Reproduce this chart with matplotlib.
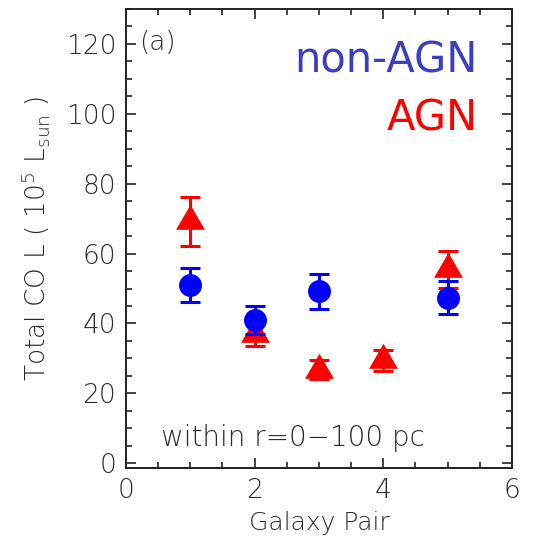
import numpy as np
import matplotlib
matplotlib.use("Agg")
import matplotlib.pyplot as plt
from matplotlib.ticker import MultipleLocator

# total CO luminosity (10^5 Lsun) inside r = 0-100 pc
pair_non = [1, 2, 3, 5]
lum_non = [51.0, 41.0, 49.2, 47.4]
err_non = [5.0, 4.0, 5.0, 4.8]

pair_agn = [1, 2, 3, 4, 5]
lum_agn = [69.3, 37.0, 26.7, 29.5, 55.5]
err_agn = [7.0, 3.5, 2.7, 3.0, 5.3]

txt = '#2a2a2a'
plt.rcParams['font.family'] = 'DejaVu Sans'
plt.rcParams['font.weight'] = 'light'
plt.rcParams['axes.labelweight'] = 'light'

# triangle with its centroid on the data point
tri = [(-1.0, -0.577), (1.0, -0.577), (0.0, 1.155), (-1.0, -0.577)]

fig = plt.figure(figsize=(5.37, 5.52), dpi=100)
ax = fig.add_axes([0.2346, 0.152, 0.7188, 0.8317])

ax.errorbar(pair_agn, lum_agn, yerr=err_agn, fmt='none', ecolor='red',
            elinewidth=2.2, capsize=7.5, capthick=2.2, zorder=3)
ax.plot(pair_agn, lum_agn, ls='none', marker=tri, color='red', ms=24,
        mec='none', zorder=3)
ax.errorbar(pair_non, lum_non, yerr=err_non, fmt='o', color='blue', ms=15.5,
            elinewidth=2.2, capsize=7.5, capthick=2.2, zorder=4)

ax.set_xlim(0, 6)
ax.set_ylim(-1.4, 130)
ax.xaxis.set_major_locator(MultipleLocator(2))
ax.xaxis.set_minor_locator(MultipleLocator(0.5))
ax.yaxis.set_major_locator(MultipleLocator(20))
ax.yaxis.set_minor_locator(MultipleLocator(5))
ax.tick_params(which='both', direction='in', top=True, right=True,
               colors='#222222', labelcolor=txt, labelsize=19, width=1.2)
ax.tick_params(which='major', length=7, pad=7)
ax.tick_params(which='minor', length=4)
for s in ax.spines.values():
    s.set_linewidth(1.4)
    s.set_color('#222222')

ax.set_xlabel('Galaxy Pair', fontsize=18, color=txt, labelpad=6)
ax.set_ylabel(r'Total CO L ( 10$^5$ L$_{\rm sun}$ )', fontsize=19,
              color=txt, labelpad=10)

ax.text(0.035, 0.955, '(a)', transform=ax.transAxes, fontsize=19,
        color=txt, va='top', ha='left')
ax.text(0.912, 0.861, 'non-AGN', transform=ax.transAxes, fontsize=30,
        color='#3a3fc0', ha='right', va='baseline', weight='normal')
ax.text(0.912, 0.736, 'AGN', transform=ax.transAxes, fontsize=30,
        color='red', ha='right', va='baseline', weight='normal')
ax.text(0.09, 0.065, 'within r=0\u2212100 pc', transform=ax.transAxes,
        fontsize=20, color=txt, ha='left', va='center')

fig.savefig('out.png', dpi=100)
